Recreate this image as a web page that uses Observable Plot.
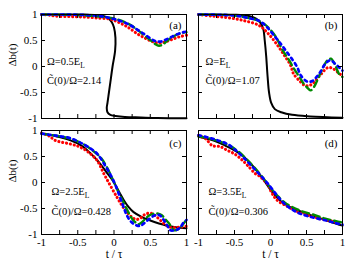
<!DOCTYPE html>
<html><head><meta charset="utf-8">
<script src="https://cdn.jsdelivr.net/npm/d3@7"></script>
<script src="https://cdn.jsdelivr.net/npm/@observablehq/plot@0.6"></script>
<style>
body{margin:0;background:#fff;}
#chart{position:relative;width:357px;height:276px;background:#fff;}
#chart svg{position:absolute;}
#chart svg text{font-family:"Liberation Serif","DejaVu Serif",serif;}
</style></head><body><div id="chart"></div>
<script>
// ---- tick values and labels ----
const xTicks = [-1, -0.75, -0.5, -0.25, 0, 0.25, 0.5, 0.75, 1];
const xTickLabels = [-1, -0.5, 0, 0.5, 1];
const yTicks = [-1, -0.5, 0, 0.5, 1];
const panelTags = ["(a)", "(b)", "(c)", "(d)"];
const omegaLabels = ["Ω=0.5E", "Ω=E", "Ω=2.5E", "Ω=3.5E"];
const ratioLabels = ["C\u0303(0)/Ω=2.14", "C\u0303(0)/Ω=1.07", "C\u0303(0)/Ω=0.428", "C\u0303(0)/Ω=0.306"];
const xLabel = "t / τ";
const yLabel = "Δb(t)";

// ---- panel (a) : [t/τ, Δb] ----
const a_black = [[-1,1],[-0.4,0.998],[-0.2,0.985],[-0.12,0.96],[-0.07,0.92],[-0.03,0.85],[0.0,0.75],[0.02,0.55],[0.015,0.3],[-0.02,0],[-0.05,-0.3],[-0.07,-0.5],[-0.09,-0.7],[-0.1,-0.8],[-0.09,-0.88],[-0.05,-0.93],[0.02,-0.95],[0.15,-0.97],[0.37,-0.98],[0.6,-0.99],[1,-0.995]];
const a_red = [[-1,1],[-0.9,0.99],[-0.81,0.97],[-0.6,0.96],[-0.4,0.95],[-0.2,0.93],[-0.05,0.91],[0.05,0.86],[0.15,0.79],[0.23,0.72],[0.32,0.63],[0.41,0.56],[0.48,0.51],[0.55,0.47],[0.62,0.45],[0.7,0.47],[0.8,0.52],[0.9,0.57],[1,0.6]];
const a_green = [[-1,1],[-0.5,0.99],[-0.2,0.96],[0,0.92],[0.1,0.88],[0.2,0.82],[0.3,0.73],[0.4,0.62],[0.5,0.51],[0.57,0.43],[0.62,0.40],[0.67,0.42],[0.73,0.49],[0.8,0.56],[0.9,0.63],[1,0.66]];
const a_blue = [[-1,1],[-0.5,0.995],[-0.2,0.97],[-0.05,0.93],[0.1,0.87],[0.23,0.79],[0.32,0.71],[0.41,0.63],[0.48,0.56],[0.55,0.5],[0.6,0.48],[0.65,0.48],[0.72,0.52],[0.78,0.56],[0.87,0.62],[0.96,0.66],[1,0.67]];

// ---- panel (b) ----
const b_black = [[-1,1],[-0.5,0.995],[-0.3,0.97],[-0.2,0.92],[-0.14,0.84],[-0.1,0.72],[-0.08,0.5],[-0.06,0.2],[-0.04,-0.2],[-0.02,-0.5],[0.01,-0.7],[0.06,-0.82],[0.15,-0.88],[0.3,-0.93],[0.55,-0.96],[1,-0.985]];
const b_red = [[-1,1],[-0.81,0.97],[-0.6,0.94],[-0.39,0.89],[-0.16,0.79],[-0.05,0.66],[0.07,0.46],[0.18,0.24],[0.28,0.02],[0.32,-0.14],[0.42,-0.30],[0.47,-0.36],[0.53,-0.37],[0.6,-0.31],[0.7,-0.15],[0.8,-0.02],[0.88,-0.05],[0.95,-0.13],[1,-0.18]];
const b_green = [[-1,1],[-0.5,0.98],[-0.3,0.93],[-0.15,0.87],[-0.03,0.75],[0.08,0.56],[0.16,0.33],[0.25,0.14],[0.33,-0.05],[0.41,-0.22],[0.46,-0.33],[0.52,-0.42],[0.56,-0.46],[0.61,-0.38],[0.67,-0.2],[0.73,-0.02],[0.79,0.12],[0.84,0.15],[0.9,0.02],[0.95,-0.14],[1,-0.2]];
const b_blue = [[-1,1],[-0.5,0.98],[-0.3,0.93],[-0.16,0.88],[-0.05,0.76],[0.07,0.56],[0.14,0.44],[0.21,0.31],[0.28,0.18],[0.37,-0.01],[0.42,-0.17],[0.51,-0.29],[0.58,-0.28],[0.64,-0.2],[0.69,-0.11],[0.76,0.05],[0.83,0.12],[0.9,0.05],[0.97,-0.04],[1,-0.08]];

// ---- panel (c) ----
const c_black = [[-1,0.94],[-0.8,0.89],[-0.6,0.81],[-0.45,0.71],[-0.37,0.62],[-0.28,0.5],[-0.19,0.36],[-0.1,0.19],[0,0.0],[0.07,-0.18],[0.14,-0.35],[0.2,-0.47],[0.27,-0.57],[0.38,-0.66],[0.5,-0.73],[0.62,-0.79],[0.73,-0.83],[0.85,-0.86],[1,-0.88]];
const c_red = [[-1,0.95],[-0.9,0.9],[-0.81,0.81],[-0.6,0.74],[-0.5,0.7],[-0.39,0.62],[-0.3,0.52],[-0.23,0.42],[-0.14,0.17],[-0.05,-0.06],[0.04,-0.28],[0.1,-0.42],[0.16,-0.54],[0.25,-0.67],[0.31,-0.71],[0.37,-0.68],[0.43,-0.61],[0.5,-0.59],[0.55,-0.62],[0.62,-0.7],[0.7,-0.8],[0.78,-0.86],[0.89,-0.86],[1,-0.84]];
const c_green = [[-1,0.94],[-0.8,0.9],[-0.6,0.84],[-0.4,0.72],[-0.3,0.62],[-0.19,0.49],[-0.1,0.3],[0.02,-0.06],[0.08,-0.24],[0.14,-0.41],[0.19,-0.55],[0.25,-0.7],[0.3,-0.77],[0.34,-0.8],[0.39,-0.76],[0.43,-0.7],[0.49,-0.63],[0.55,-0.6],[0.61,-0.6],[0.66,-0.63],[0.71,-0.71],[0.76,-0.79],[0.83,-0.92],[0.88,-0.9],[0.92,-0.86],[0.96,-0.79],[1,-0.72]];
const c_blue = [[-1,0.94],[-0.8,0.9],[-0.6,0.85],[-0.4,0.72],[-0.3,0.63],[-0.23,0.55],[-0.12,0.32],[-0.03,0.1],[0.04,-0.12],[0.1,-0.35],[0.14,-0.5],[0.18,-0.64],[0.24,-0.76],[0.32,-0.83],[0.37,-0.83],[0.41,-0.79],[0.48,-0.71],[0.55,-0.64],[0.6,-0.62],[0.64,-0.64],[0.69,-0.73],[0.74,-0.84],[0.78,-0.92],[0.83,-0.92],[0.88,-0.9],[0.92,-0.85],[0.96,-0.77],[1,-0.72]];

// ---- panel (d) ----
const d_black = [[-1,0.88],[-0.8,0.81],[-0.63,0.71],[-0.5,0.62],[-0.39,0.52],[-0.28,0.37],[-0.16,0.17],[-0.08,0.02],[0,-0.14],[0.08,-0.27],[0.16,-0.38],[0.3,-0.49],[0.44,-0.57],[0.58,-0.64],[0.72,-0.7],[0.86,-0.77],[1,-0.83]];
const d_red = [[-1,0.9],[-0.9,0.84],[-0.81,0.71],[-0.7,0.69],[-0.6,0.62],[-0.5,0.55],[-0.4,0.44],[-0.32,0.33],[-0.21,0.17],[-0.15,0.12],[-0.09,0.04],[-0.03,-0.05],[0.0,-0.15],[0.04,-0.25],[0.07,-0.31],[0.14,-0.39],[0.21,-0.44],[0.3,-0.51],[0.39,-0.57],[0.5,-0.62],[0.6,-0.66],[0.7,-0.7],[0.81,-0.73],[0.9,-0.76],[1,-0.79]];
const d_green = [[-1,0.89],[-0.8,0.83],[-0.6,0.73],[-0.45,0.6],[-0.3,0.4],[-0.15,0.17],[0,-0.1],[0.1,-0.26],[0.2,-0.39],[0.3,-0.47],[0.45,-0.56],[0.6,-0.62],[0.75,-0.69],[0.9,-0.74],[1,-0.77]];
const d_blue = [[-1,0.91],[-0.8,0.84],[-0.6,0.74],[-0.5,0.64],[-0.39,0.5],[-0.25,0.3],[-0.1,0.08],[0.02,-0.12],[0.12,-0.3],[0.22,-0.44],[0.35,-0.56],[0.5,-0.64],[0.67,-0.7],[0.8,-0.74],[0.9,-0.78],[1,-0.81]];

const toRows = arr => arr.map(([t, v]) => ({t, v}));

const panels = [
  {series: [a_black, a_red, a_green, a_blue], left: 0, top: 0, w: 192, h: 124, mL: 41, mR: 6, mT: 14, mB: 6, yl: true, xl: false, tagDy: 11, lx: 5.5, ly1: -5, ly2: 14},
  {series: [b_black, b_red, b_green, b_blue], left: 192, top: 0, w: 165, h: 124, mL: 6, mR: 15, mT: 14, mB: 6, yl: false, xl: false, tagDy: 11, lx: 7, ly1: -5, ly2: 14},
  {series: [c_black, c_red, c_green, c_blue], left: 0, top: 124, w: 192, h: 152, mL: 41, mR: 6, mT: 6, mB: 42, yl: true, xl: true, tagDy: 13, lx: 10, ly1: 9, ly2: 29},
  {series: [d_black, d_red, d_green, d_blue], left: 192, top: 124, w: 165, h: 152, mL: 6, mR: 15, mT: 6, mB: 42, yl: false, xl: true, tagDy: 13, lx: 10, ly1: 9, ly2: 29}
];

const serif = "Liberation Serif, DejaVu Serif, serif";
const chart = document.getElementById("chart");
panels.forEach((p, i) => {
  const fw = p.w - p.mL - p.mR, fh = p.h - p.mT - p.mB;
  const [blk, red, grn, blu] = p.series.map(toRows);
  const marks = [
    Plot.line(blk, {x: "t", y: "v", stroke: "black", strokeWidth: 2, curve: "catmull-rom"}),
    Plot.line(red, {x: "t", y: "v", stroke: "#ff0000", strokeWidth: 3.1, strokeDasharray: "0.1 3.8", strokeLinecap: "round", curve: "catmull-rom"}),
    Plot.line(grn, {x: "t", y: "v", stroke: "#008a00", strokeWidth: 2.4, strokeDasharray: "7 4", curve: "catmull-rom"}),
    Plot.line(blu, {x: "t", y: "v", stroke: "#0000ff", strokeWidth: 2.7, strokeDasharray: "2.7 3.8", curve: "catmull-rom"}),
    Plot.frame({stroke: "black", strokeWidth: 1}),
    Plot.tickX(xTicks, {x: d => d, insetTop: fh - 4, stroke: "black"}),
    Plot.tickX(xTicks, {x: d => d, insetBottom: fh - 4, stroke: "black"}),
    Plot.tickY(yTicks, {y: d => d, insetRight: fw - 4, stroke: "black"}),
    Plot.tickY(yTicks, {y: d => d, insetLeft: fw - 4, stroke: "black"}),
    Plot.text([panelTags[i]], {frameAnchor: "top-right", textAnchor: "end", lineAnchor: "middle", dx: -5, dy: p.tagDy, fontSize: 11, fontFamily: serif}),
    Plot.text([omegaLabels[i]], {frameAnchor: "left", textAnchor: "start", lineAnchor: "middle", dx: p.lx, dy: p.ly1, fontSize: 10.5, fontFamily: serif}),
    Plot.text([ratioLabels[i]], {frameAnchor: "left", textAnchor: "start", lineAnchor: "middle", dx: p.lx, dy: p.ly2, fontSize: 10.5, fontFamily: serif})
  ];
  if (p.yl) {
    marks.push(Plot.axisY({ticks: yTicks, anchor: "left", tickSize: 0, tickPadding: 4, tickFormat: d => String(d), label: null, fontSize: 11, fontFamily: serif}));
    marks.push(Plot.text([yLabel], {frameAnchor: "left", lineAnchor: "middle", rotate: -90, dx: -29, fontSize: 11, fontFamily: serif}));
  }
  if (p.xl) {
    marks.push(Plot.axisX({ticks: xTickLabels, anchor: "bottom", tickSize: 0, tickPadding: 4, tickFormat: d => String(d), label: null, fontSize: 11, fontFamily: serif}));
    marks.push(Plot.text([xLabel], {frameAnchor: "bottom", lineAnchor: "middle", dy: 20, fontSize: 11.5, fontFamily: serif}));
  }
  const svg = Plot.plot({
    width: p.w, height: p.h,
    marginLeft: p.mL, marginRight: p.mR, marginTop: p.mT, marginBottom: p.mB,
    x: {domain: [-1, 1], axis: null},
    y: {domain: [-1, 1], axis: null},
    style: {fontFamily: serif, fontSize: "11px", background: "transparent", overflow: "visible", color: "black"},
    marks
  });
  svg.style.left = p.left + "px";
  svg.style.top = p.top + "px";
  svg.querySelectorAll("text").forEach(t => {
    t.setAttribute("font-family", serif);
    if (t.textContent.startsWith("Ω=")) {
      const ts = document.createElementNS("http://www.w3.org/2000/svg", "tspan");
      ts.setAttribute("dy", "3");
      ts.setAttribute("font-size", "7.5");
      ts.textContent = "L";
      t.appendChild(ts);
    }
  });
  chart.appendChild(svg);
});
</script></body></html>
